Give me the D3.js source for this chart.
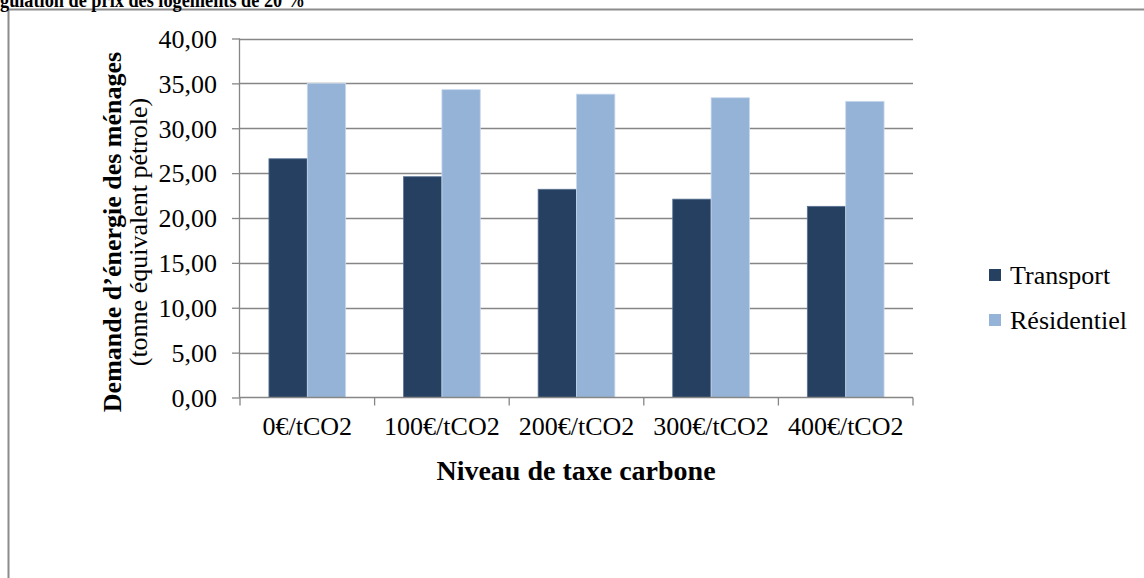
<!DOCTYPE html>
<html>
<head>
<meta charset="utf-8">
<script src="https://cdn.jsdelivr.net/npm/d3@7"></script>
<style>
  html, body { margin: 0; padding: 0; background: #fff; }
  svg { display: block; }
  text { font-family: "Liberation Serif", "Times New Roman", serif; fill: #000; }
</style>
</head>
<body>
<svg id="chart" width="1144" height="578"></svg>
<script>
const categories = ["0€/tCO2", "100€/tCO2", "200€/tCO2", "300€/tCO2", "400€/tCO2"];
const seriesNames = ["Transport", "Résidentiel"];
const transport = [26.6, 24.6, 23.2, 22.1, 21.3];
const residentiel = [35.0, 34.3, 33.8, 33.4, 33.0];
const yTicks = [0, 5, 10, 15, 20, 25, 30, 35, 40];
const colors = ["#254061", "#95B3D7"];

const svg = d3.select("#chart");
const W = 1144, H = 578;
const FS = 26;

// Outer frame (partially visible)
svg.append("path")
  .attr("d", `M8.5,${H + 2} L8.5,9.5 L${W + 2},9.5`)
  .attr("fill", "none").attr("stroke", "#8c8c8c").attr("stroke-width", 2);

// Clipped title at top: the first letters fall left of the page edge, as in the reference
const titleFS = 21;
const titleG = svg.append("text").attr("y", 7).attr("font-size", titleFS).attr("font-weight", "bold");
titleG.append("tspan").attr("x", 0).attr("text-anchor", "end").text("Ré");
svg.append("text").attr("x", 0).attr("y", 7).attr("font-size", titleFS).attr("font-weight", "bold")
  .attr("textLength", 305).attr("lengthAdjust", "spacingAndGlyphs")
  .text("gulation de prix des logements de 20 %");

const plot = { left: 240, right: 913, top: 38.5, bottom: 397.5 };

const x0 = d3.scaleBand().domain(categories).range([plot.left, plot.right]).paddingInner(0.43).paddingOuter(0.215);
const x1 = d3.scaleBand().domain(seriesNames).range([0, x0.bandwidth()]);
const y = d3.scaleLinear().domain([0, 40]).range([plot.bottom, plot.top]);

// Gridlines
svg.append("g").selectAll("line").data(yTicks.filter(d => d > 0)).join("line")
  .attr("x1", plot.left).attr("x2", plot.right)
  .attr("y1", d => Math.round(y(d)) + 0.5).attr("y2", d => Math.round(y(d)) + 0.5)
  .attr("stroke", "#868686").attr("stroke-width", 1.3);

// Bars
const data = categories.map((c, i) => ({ cat: c, vals: [transport[i], residentiel[i]] }));
const groups = svg.append("g").selectAll("g").data(data).join("g")
  .attr("transform", d => `translate(${x0(d.cat)},0)`);
groups.selectAll("rect").data(d => d.vals.map((v, j) => ({ key: seriesNames[j], v, j }))).join("rect")
  .attr("x", d => x1(d.key))
  .attr("width", x1.bandwidth())
  .attr("y", d => y(d.v))
  .attr("height", d => plot.bottom - y(d.v))
  .attr("fill", d => colors[d.j])
  .attr("stroke", d => d.j === 0 ? "#5a7394" : "#c9d9ec")
  .attr("stroke-width", 0.8);

// Y axis
const yAxis = d3.axisLeft(y).tickValues(yTicks).tickSize(8).tickPadding(15)
  .tickFormat(d => d3.format(".2f")(d).replace(".", ","));
const gy = svg.append("g").attr("transform", `translate(${plot.left},0)`).call(yAxis);
gy.attr("font-size", null).attr("font-family", null);
gy.select(".domain").attr("stroke", "#868686").attr("stroke-width", 1.3).attr("d", `M-0.5,${plot.top}V${plot.bottom}`);
gy.selectAll(".tick line").attr("stroke", "#868686").attr("stroke-width", 1.3);
gy.selectAll(".tick text").attr("font-size", FS).attr("fill", "#000").attr("dy", "0.34em");

// X axis
const xTickScale = d3.scaleLinear().domain([0, categories.length]).range([plot.left, plot.right]);
const gx = svg.append("g");
gx.append("line").attr("x1", plot.left).attr("x2", plot.right)
  .attr("y1", plot.bottom).attr("y2", plot.bottom)
  .attr("stroke", "#868686").attr("stroke-width", 1.3);
gx.selectAll("line.tk").data(d3.range(categories.length + 1)).join("line").attr("class", "tk")
  .attr("x1", d => xTickScale(d)).attr("x2", d => xTickScale(d))
  .attr("y1", plot.bottom).attr("y2", plot.bottom + 8)
  .attr("stroke", "#868686").attr("stroke-width", 1.3);
gx.selectAll("text").data(categories).join("text")
  .attr("x", d => x0(d) + x0.bandwidth() / 2)
  .attr("y", 435)
  .attr("text-anchor", "middle")
  .attr("font-size", FS)
  .text(d => d);

// X title
svg.append("text").attr("x", 576).attr("y", 480).attr("text-anchor", "middle")
  .attr("font-size", 28).attr("font-weight", "bold").text("Niveau de taxe carbone");

// Y title
const yt = svg.append("text").attr("transform", "translate(0,232) rotate(-90)").attr("text-anchor", "middle");
yt.append("tspan").attr("x", 0).attr("y", 121).attr("font-size", FS).attr("font-weight", "bold")
  .text("Demande d’énergie des ménages");
yt.append("tspan").attr("x", 0).attr("y", 147).attr("font-size", FS)
  .text("(tonne équivalent pétrole)");

// Legend
const legend = svg.append("g").selectAll("g").data(seriesNames).join("g")
  .attr("transform", (d, i) => `translate(989,${275 + i * 45})`);
legend.append("rect").attr("x", 0).attr("y", -6).attr("width", 12).attr("height", 12)
  .attr("fill", (d, i) => colors[i]);
legend.append("text").attr("x", 21).attr("y", 9).attr("font-size", FS).text(d => d);
</script>
</body>
</html>
